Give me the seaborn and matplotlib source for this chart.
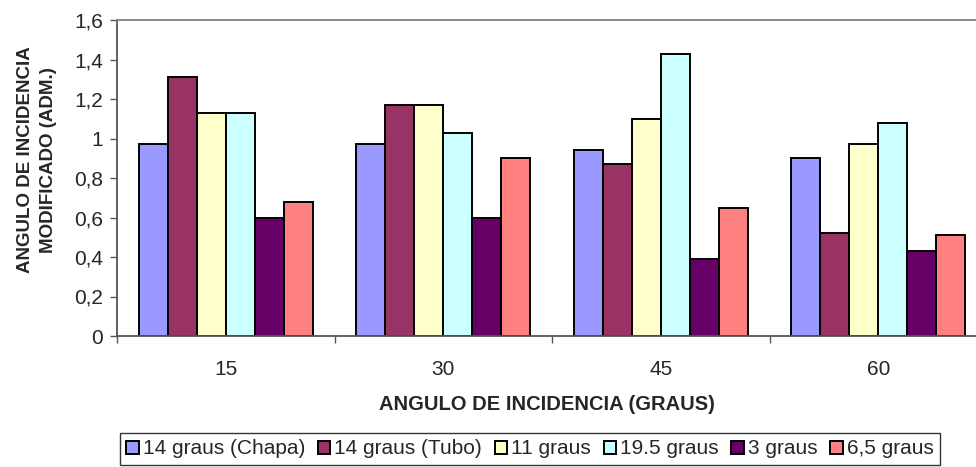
import matplotlib
matplotlib.use("Agg")
import matplotlib.pyplot as plt
import seaborn as sns
import pandas as pd
from matplotlib.patches import Patch
from matplotlib.ticker import FixedLocator

angles = ["15", "30", "45", "60"]
series = ["14 graus (Chapa)", "14 graus (Tubo)", "11 graus", "19.5 graus", "3 graus", "6,5 graus"]
chapa14 = [0.97, 0.97, 0.94, 0.90]
tubo14 = [1.31, 1.17, 0.87, 0.52]
g11 = [1.13, 1.17, 1.10, 0.97]
g195 = [1.13, 1.03, 1.43, 1.08]
g3 = [0.60, 0.60, 0.39, 0.43]
g65 = [0.68, 0.90, 0.65, 0.51]
colors = ["#9999FF", "#993366", "#FFFFCC", "#CCFFFF", "#660066", "#FF8080"]
yticks = [0, 0.2, 0.4, 0.6, 0.8, 1.0, 1.2, 1.4, 1.6]
ytick_labels = ["0", "0,2", "0,4", "0,6", "0,8", "1", "1,2", "1,4", "1,6"]

values = [chapa14, tubo14, g11, g195, g3, g65]
rows = []
for s, vals in zip(series, values):
    for a, v in zip(angles, vals):
        rows.append({"angle": a, "series": s, "value": v})
df = pd.DataFrame(rows)

sns.set_theme(style="white")
plt.rcParams["font.family"] = ["Liberation Sans", "DejaVu Sans"]

W, H = 976, 467
fig = plt.figure(figsize=(W / 100, H / 100), dpi=100)
ax = fig.add_axes([117 / W, 1 - 336 / H, (987 - 117) / W, (336 - 20) / H])

sns.barplot(data=df, x="angle", y="value", hue="series", hue_order=series, order=angles,
            palette=colors, edgecolor="black", linewidth=1.4, width=0.8, gap=0,
            saturation=1, ax=ax, legend=False)

ax.set_xlim(-0.5, 3.5)
ax.set_ylim(0, 1.6)
ax.set_yticks(yticks)
ax.set_yticklabels(ytick_labels, fontsize=15)
ax.set_xticks(range(4))
ax.set_xticklabels(angles, fontsize=15)
ax.xaxis.set_minor_locator(FixedLocator([-0.5, 0.5, 1.5, 2.5, 3.5]))
ax.tick_params(axis="x", which="major", length=0, pad=17)
ax.tick_params(axis="x", which="minor", length=5, width=1, color="#555555", direction="out", bottom=True)
ax.tick_params(axis="y", which="major", length=5, width=1, color="#555555", direction="out", left=True, pad=5)
for sp in ax.spines.values():
    sp.set_color("#808080")
    sp.set_linewidth(1.3)
ax.spines["left"].set_color("#555555")
ax.spines["bottom"].set_color("#555555")
ax.set_xlabel("")
ax.set_ylabel("")

fig.text(547 / W, 1 - 404 / H, "ANGULO DE INCIDENCIA (GRAUS)", ha="center", va="center",
         fontsize=14.5, fontweight="bold")
fig.text(37 / W, 1 - 160 / H, "ANGULO DE INCIDENCIA\nMODIFICADO (ADM.)", ha="center", va="center",
         rotation=90, fontsize=13.5, fontweight="bold", linespacing=1.45)

handles = [Patch(facecolor=c, edgecolor="black", linewidth=1.4) for c in colors]
leg = fig.legend(handles, series, loc="center", bbox_to_anchor=(530 / W, 1 - 449 / H), ncol=6,
                 fontsize=15, frameon=True, fancybox=False, handlelength=0.6, handleheight=0.6,
                 handletextpad=0.2, columnspacing=0.6, borderpad=0.3, borderaxespad=0)
leg.get_frame().set_edgecolor("black")
leg.get_frame().set_linewidth(1.0)

fig.savefig("out.png", dpi=100, facecolor="white")
